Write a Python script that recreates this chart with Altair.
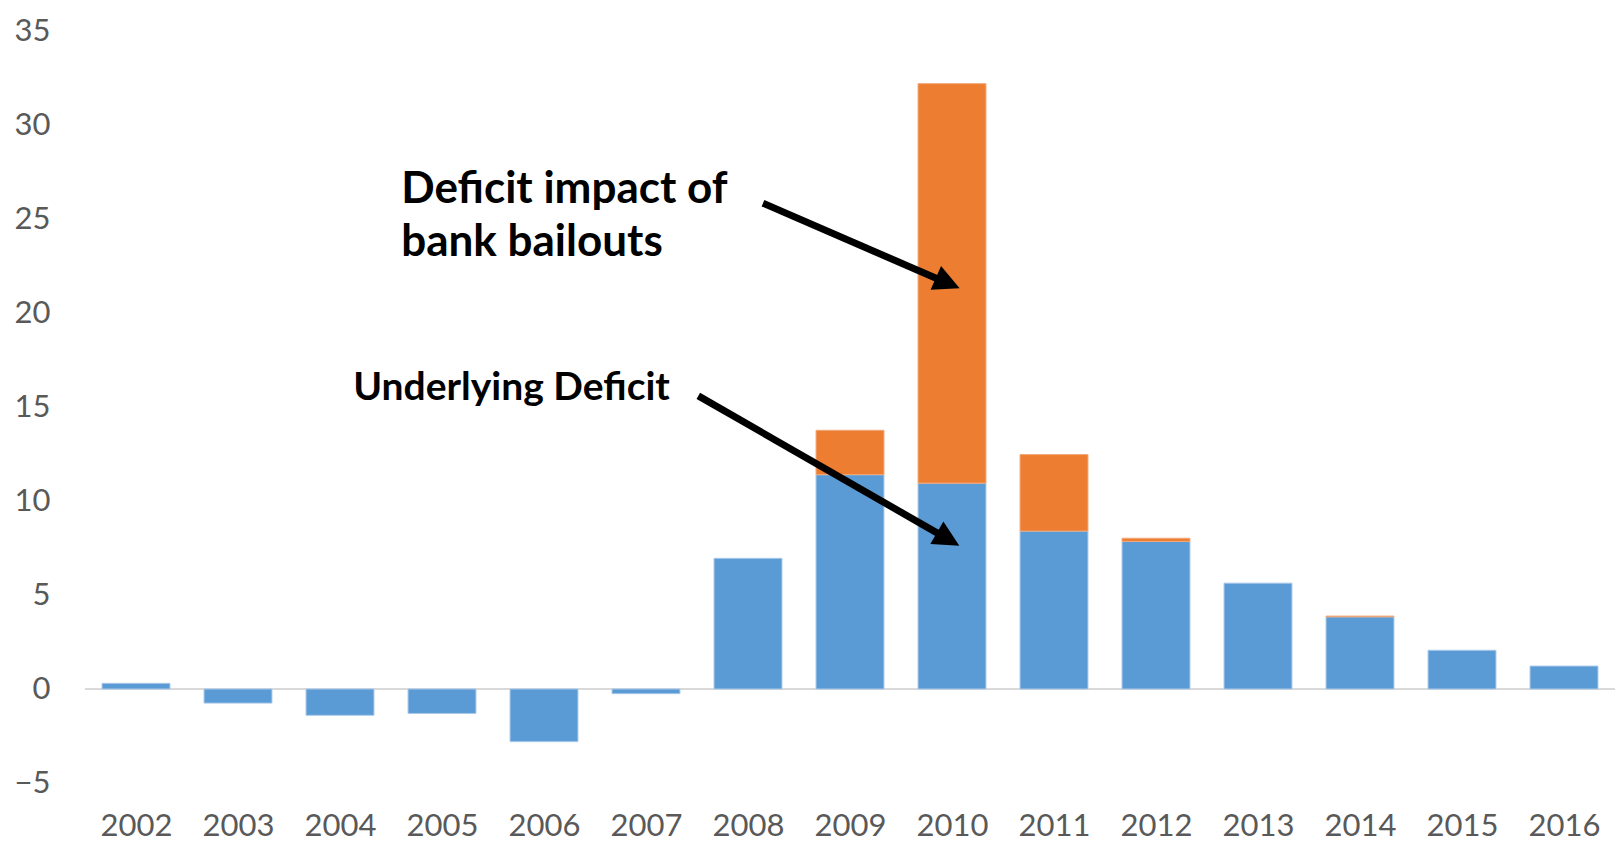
import altair as alt
import pandas as pd

years = list(range(2002, 2017))
underlying = [0.3, -0.75, -1.4, -1.3, -2.8, -0.25, 6.95, 11.4, 10.95, 8.4, 7.85, 5.63, 3.84, 2.06, 1.22]
bailout = [0, 0, 0, 0, 0, 0, 0, 2.36, 21.25, 4.07, 0.17, 0, 0.04, 0, 0]

y_ticks = [-5, 0, 5, 10, 15, 20, 25, 30, 35]

# annotation text (data coordinates: x in years, y in % units)
bailout_text = ["Deficit impact of", "bank bailouts"]
bailout_x = [2004.60, 2004.60]
bailout_y = [25.84, 23.05]
under_text = ["Underlying Deficit"]
under_x = [2004.13]
under_y = [15.38]

# arrows: start, head base, tip (data coordinates)
arrow_x0 = [2008.147, 2007.513]
arrow_y0 = [25.84, 15.59]
arrow_x1 = [2009.878, 2009.887]
arrow_y1 = [21.77, 8.20]
arrow_tipx = [2010.075, 2010.072]
arrow_tipy = [21.31, 7.62]
arrow_angle = [23.67, 30.14]

BLUE = "#5B9BD5"
ORANGE = "#ED7D31"
GREY = "#595959"
FONT = "Lato"
NOTE_FONT = "Lato"

df = pd.DataFrame({"year": years, "underlying": underlying, "bailout": bailout})
notes1 = pd.DataFrame({"text": bailout_text, "x": bailout_x, "y": bailout_y})
notes2 = pd.DataFrame({"text": under_text, "x": under_x, "y": under_y})
arrows = pd.DataFrame({"x0": arrow_x0, "y0": arrow_y0, "x1": arrow_x1, "y1": arrow_y1,
                       "tx": arrow_tipx, "ty": arrow_tipy, "ang": arrow_angle})

xscale = alt.Scale(domain=[2001.5, 2016.5], nice=False, zero=False)
yscale = alt.Scale(domain=[-5, 35], nice=False)

base = alt.Chart(df).transform_calculate(
    xa="datum.year - 0.333",
    xb="datum.year + 0.333",
    top="datum.underlying + datum.bailout",
)

blue = base.mark_bar(color=BLUE, stroke="#A9C8EA", strokeWidth=1).encode(
    x=alt.X("xa:Q", scale=xscale,
            axis=alt.Axis(values=years, format="d", title=None, grid=False, domain=False,
                          ticks=False, tickSize=0, labelFont=FONT, labelFontSize=31,
                          labelColor=GREY, labelBaseline="alphabetic", labelPadding=52,
                          labelFlush=False, labelOverlap=False)),
    x2="xb:Q",
    y=alt.Y("underlying:Q", scale=yscale,
            axis=alt.Axis(values=y_ticks, title=None, grid=False, domain=False, ticks=False,
                          tickSize=0, labelFont=FONT, labelFontSize=31, labelColor=GREY,
                          labelPadding=35, labelFlush=False)),
    y2=alt.datum(0),
)

orange = base.transform_filter("datum.bailout > 0").mark_bar(
    color=ORANGE, stroke="#F3A878", strokeWidth=1
).encode(
    x=alt.X("xa:Q", scale=xscale),
    x2="xb:Q",
    y=alt.Y("underlying:Q", scale=yscale),
    y2="top:Q",
)

zero = alt.Chart(pd.DataFrame({"z": [0]})).mark_rule(color="#D9D9D9", strokeWidth=2).encode(
    y=alt.Y("z:Q", scale=yscale)
)

text1 = alt.Chart(notes1).mark_text(
    align="left", baseline="alphabetic", font=NOTE_FONT, fontWeight="bold", fontSize=44, color="black"
).encode(
    x=alt.X("x:Q", scale=xscale),
    y=alt.Y("y:Q", scale=yscale),
    text="text:N",
)

text2 = alt.Chart(notes2).mark_text(
    align="left", baseline="alphabetic", font=NOTE_FONT, fontWeight="bold", fontSize=39, color="black"
).encode(
    x=alt.X("x:Q", scale=xscale),
    y=alt.Y("y:Q", scale=yscale),
    text="text:N",
)

lines = alt.Chart(arrows).mark_rule(color="black", strokeWidth=7).encode(
    x=alt.X("x0:Q", scale=xscale),
    y=alt.Y("y0:Q", scale=yscale),
    x2="x1:Q",
    y2="y1:Q",
)

heads = alt.Chart(arrows).mark_point(
    shape="M0,0L-2,-1L-2,1Z", filled=True, color="black", size=676, opacity=1
).encode(
    x=alt.X("tx:Q", scale=xscale),
    y=alt.Y("ty:Q", scale=yscale),
    angle=alt.Angle("ang:Q", scale=None),
)

chart = alt.layer(zero, blue, orange, lines, heads, text1, text2).properties(
    width=1530,
    height=752,
    padding={"left": 77, "top": 23, "right": 0, "bottom": 59},
    autosize=alt.AutoSizeParams(type="none"),
).configure(background="white").configure_view(stroke=None, strokeWidth=0)

chart.save("out.html", embed_options={"renderer": "svg", "actions": False})
